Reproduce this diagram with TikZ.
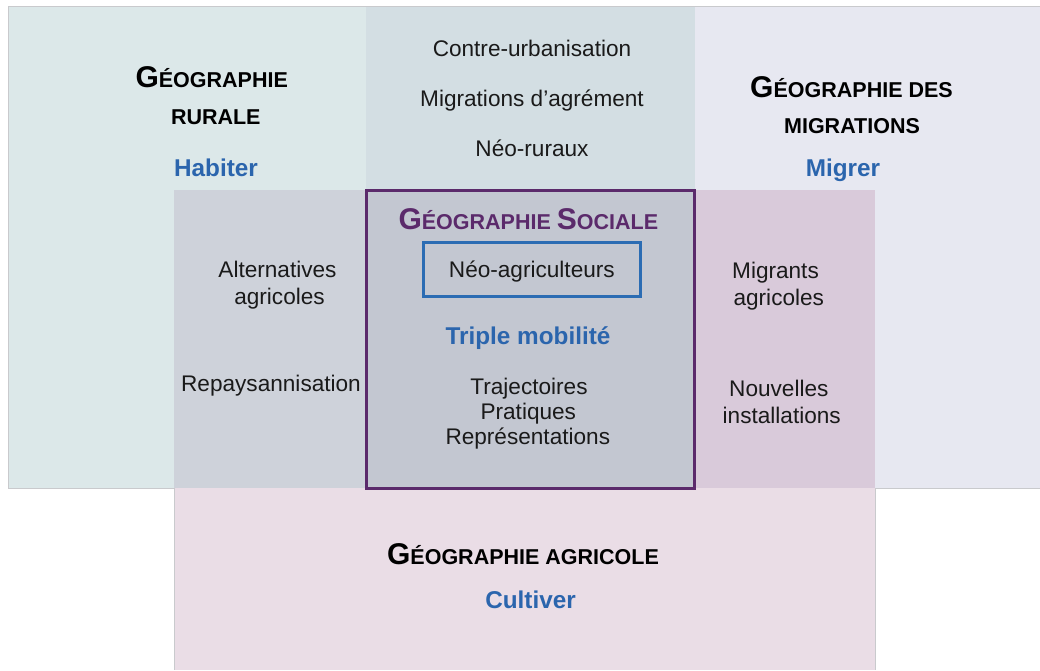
\documentclass[tikz,border=0pt]{standalone}
\usepackage{fontspec}
\setmainfont{Liberation Sans}
\definecolor{cRur}{HTML}{DCE8E9}
\definecolor{cTop}{HTML}{D3DEE3}
\definecolor{cMig}{HTML}{E7E8F1}
\definecolor{cAgr}{HTML}{EADDE6}
\definecolor{cRA}{HTML}{CED2DA}
\definecolor{cMA}{HTML}{D9CADA}
\definecolor{cSoc}{HTML}{C3C7D1}
\definecolor{socpurple}{HTML}{5B2A6B}
\definecolor{boxblue}{HTML}{2B6CB3}
\definecolor{verbblue}{HTML}{2B65AD}
\definecolor{txt}{HTML}{1A1A1A}
\definecolor{edge}{HTML}{C9CACD}
\newcommand\gsc[2]{{\fontsize{30}{32}\selectfont #1}{\fontsize{21.5}{24}\selectfont #2}}
\begin{document}
\begin{tikzpicture}[x=1pt,y=-1pt,
  body/.style={inner sep=0pt, anchor=base, text=txt, font=\fontsize{22.6}{26}\selectfont},
  verb/.style={inner sep=0pt, anchor=base, text=verbblue, font=\bfseries\fontsize{24.3}{28}\selectfont},
  title/.style={inner sep=0pt, anchor=base, text=black, font=\bfseries},
  stitle/.style={title, text=socpurple}]
\useasboundingbox (0,0) rectangle (1040,670);
\fill[white] (0,0) rectangle (1040,670);
% zones
\fill[cRur] (8,6) rectangle (366,488);
\fill[cTop] (366,6) rectangle (695,190);
\fill[cMig] (695,6) rectangle (1040,488);
\fill[cAgr] (174,190) rectangle (875,670);
\fill[cRA] (174,190) rectangle (366,488);
\fill[cMA] (695,190) rectangle (875,488);
\fill[cSoc] (366,190) rectangle (695,488);
% outer edge
\draw[edge, line width=1pt] (1040,6) -- (8,6) -- (8,488) -- (174,488) -- (174,670);
\draw[edge, line width=1pt] (1040,488) -- (875,488) -- (875,670);
% social frame
\draw[socpurple, line width=3pt] (366.5,190.5) rectangle (694,488.3);
% top middle texts
\node[body] (cu) at (532,56) {Contre-urbanisation};
\node[body] (ma) at (532,106.5) {Migrations d’agrément};
\node[body] (nr) at (532,156) {Néo-ruraux};
% rurale
\node[title] (gr1) at (211.7,87) {\gsc{G}{ÉOGRAPHIE}};
\node[title] (gr2) at (215.8,124) {\gsc{}{RURALE}};
\node[verb] (hab) at (216,176) {Habiter};
% migrations
\node[title] (gm1) at (851.5,97) {\gsc{G}{ÉOGRAPHIE DES}};
\node[title] (gm2) at (852,133) {\gsc{}{MIGRATIONS}};
\node[verb] (mig) at (843,176) {Migrer};
% sociale
\node[stitle] (gs) at (528.3,229.3) {\gsc{G}{ÉOGRAPHIE }\gsc{S}{OCIALE}};
\node[draw=boxblue, line width=3pt, minimum width=217.3pt, minimum height=54pt,
      inner sep=0pt, text height=16.2pt, text depth=0pt, text=txt,
      font=\fontsize{22.6}{26}\selectfont] (neo) at (531.85,269.2) {Néo-agriculteurs};
\node[verb] (tm) at (528,344) {Triple mobilité};
\node[body] (tr) at (529,394) {Trajectoires};
\node[body] (pr) at (528.3,419) {Pratiques};
\node[body] (re) at (527.8,444) {Représentations};
% left overlap
\node[body] (al1) at (277.5,277.7) {Alternatives};
\node[body] (al2) at (279.5,304) {agricoles};
\node[body] (rp) at (271,391) {Repaysannisation};
% right overlap
\node[body] (mg1) at (775.5,278.3) {Migrants};
\node[body] (mg2) at (778.8,305) {agricoles};
\node[body] (ni1) at (778.8,396.7) {Nouvelles};
\node[body] (ni2) at (781.7,423.3) {installations};
% agricole
\node[title] (ga) at (523,564) {\gsc{G}{ÉOGRAPHIE AGRICOLE}};
\node[verb] (cul) at (530.5,608) {Cultiver};
\end{tikzpicture}
\end{document}
